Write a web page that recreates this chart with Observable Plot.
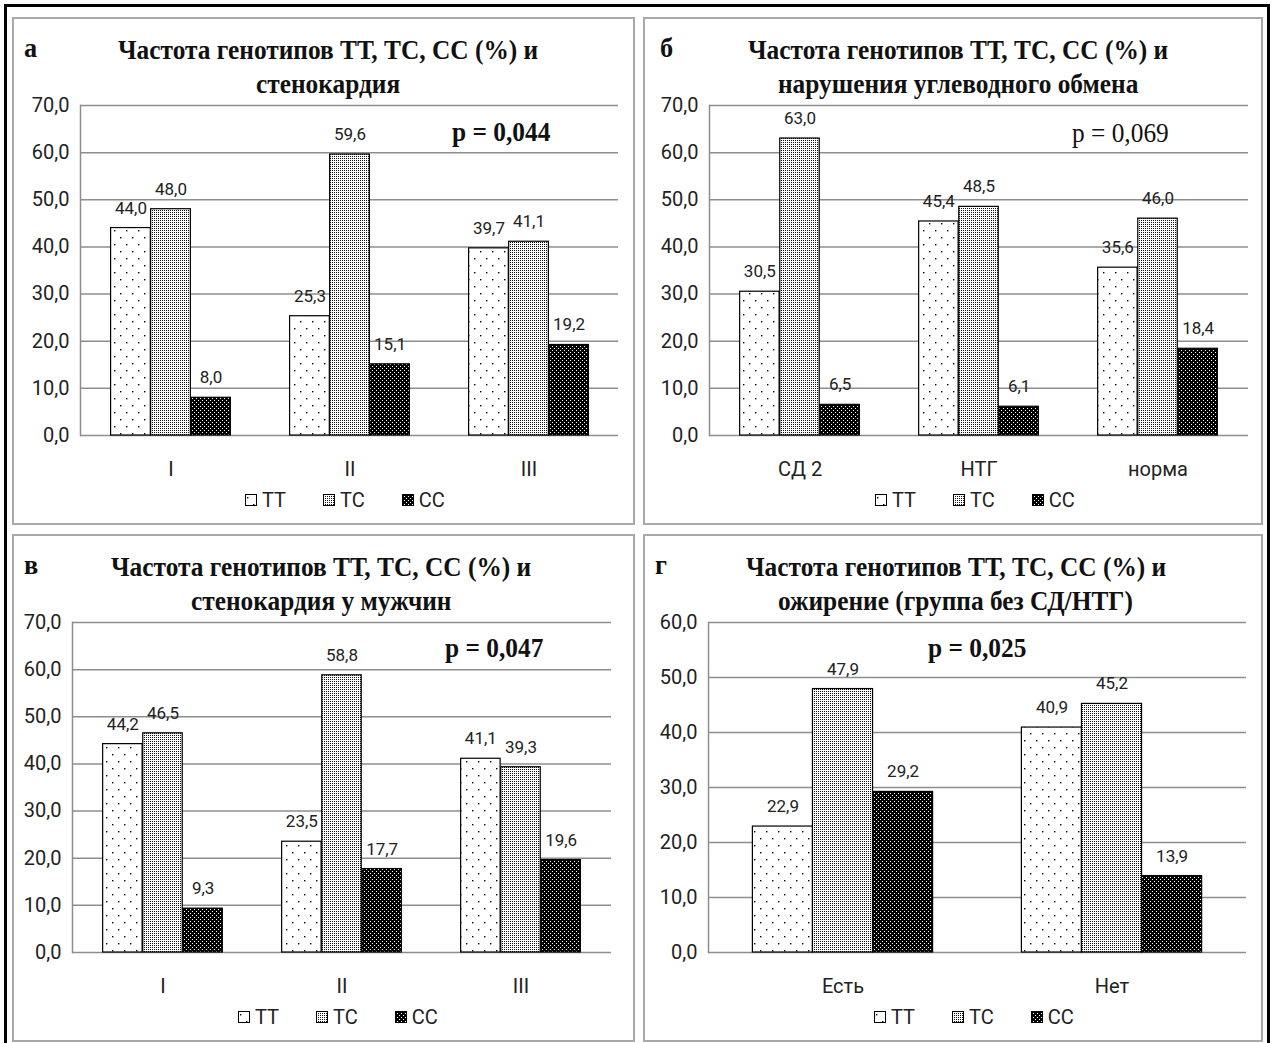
<!DOCTYPE html>
<html>
<head>
<meta charset="utf-8">
<script src="https://cdn.jsdelivr.net/npm/d3@7"></script>
<script src="https://cdn.jsdelivr.net/npm/@observablehq/plot@0.6"></script>
<style>
  html, body { margin: 0; padding: 0; background: #fff; }
  #page { position: relative; width: 1273px; height: 1043px; overflow: hidden; background: #fff; font-family: Roboto, sans-serif; }
  .outer { position: absolute; left: 4px; top: 4px; width: 1266px; height: 1100px; border: 3px solid #000; box-sizing: border-box; }
  .panel { position: absolute; border: 2px solid #a9a9a9; box-sizing: border-box; }
  .txt { position: absolute; white-space: nowrap; transform-origin: left center; color: #111; }
  .plot { position: absolute; }
  .legend { position: absolute; display: flex; gap: 37px; align-items: center; font-size: 20px; line-height: 20px; color: #222; }
  .legend .item { display: flex; align-items: center; gap: 5px; }
  .legend svg { display: block; }
</style>
</head>
<body>
<svg width="0" height="0" style="position:absolute">
  <defs>
    <pattern id="pTT" patternUnits="userSpaceOnUse" width="12" height="14">
      <rect width="12" height="14" fill="#fff"/>
      <rect x="2" y="3" width="1.4" height="1.4" fill="#000"/>
      <rect x="8" y="10" width="1.4" height="1.4" fill="#000"/>
    </pattern>
    <pattern id="pTC" patternUnits="userSpaceOnUse" width="2" height="2">
      <rect width="2" height="2" fill="#fff"/>
      <rect x="0" y="0" width="1" height="1" fill="#111"/>
    </pattern>
    <pattern id="pCC" patternUnits="userSpaceOnUse" width="4" height="4">
      <rect width="4" height="4" fill="#000"/>
      <rect x="0" y="0" width="1" height="1" fill="#fff"/>
      <rect x="2" y="2" width="1" height="1" fill="#fff"/>
    </pattern>
  </defs>
</svg>
<div id="page"><div class="outer"></div></div>
<script>
// ---------- data ----------
const genotypes = ["TT", "TC", "CC"];

const catsA = ["I", "II", "III"];
const ttA = [44.0, 25.3, 39.7];
const tcA = [48.0, 59.6, 41.1];
const ccA = [8.0, 15.1, 19.2];

const catsB = ["СД 2", "НТГ", "норма"];
const ttB = [30.5, 45.4, 35.6];
const tcB = [63.0, 48.5, 46.0];
const ccB = [6.5, 6.1, 18.4];

const catsV = ["I", "II", "III"];
const ttV = [44.2, 23.5, 41.1];
const tcV = [46.5, 58.8, 39.3];
const ccV = [9.3, 17.7, 19.6];

const catsG = ["Есть", "Нет"];
const ttG = [22.9, 40.9];
const tcG = [47.9, 45.2];
const ccG = [29.2, 13.9];

const titleLine1 = "Частота генотипов ТТ, ТС, СС (%) и";
const titlesLine2 = ["стенокардия", "нарушения углеводного обмена", "стенокардия у мужчин", "ожирение (группа без СД/НТГ)"];
const letters = ["а", "б", "в", "г"];
const pValues = ["p = 0,044", "p = 0,069", "p = 0,047", "p = 0,025"];
const yMaxes = [70, 70, 70, 60];

// ---------- layout ----------
const panelBoxes = [
  {x: 12, y: 17, w: 623, h: 508},
  {x: 643, y: 17, w: 620, h: 508},
  {x: 12, y: 534, w: 623, h: 508},
  {x: 643, y: 534, w: 620, h: 508}
];
const plotBoxes = [
  {left: 80, right: 618, top: 105, bottom: 435},
  {left: 709, right: 1248, top: 105, bottom: 435},
  {left: 72, right: 611, top: 622, bottom: 952},
  {left: 708, right: 1246, top: 622, bottom: 952}
];
const titlePos = [
  {letterX: 24, cx: 328, cy1: 50, cy2: 84},
  {letterX: 660, cx: 958, cy1: 50, cy2: 84},
  {letterX: 24, cx: 321, cy1: 567, cy2: 601},
  {letterX: 655, cx: 956, cy1: 567, cy2: 601}
];
const pPos = [
  {x: 452, cy: 132, bold: true},
  {x: 1072, cy: 133, bold: false},
  {x: 445, cy: 648, bold: true},
  {x: 928, cy: 648, bold: true}
];
const legendPos = [
  {x: 245, cy: 500}, {x: 875, cy: 500}, {x: 238, cy: 1017}, {x: 874, cy: 1017}
];

const page = document.getElementById("page");
const fmt = v => v.toFixed(1).replace(".", ",");
const pats = ["url(#pTT)", "url(#pTC)", "url(#pCC)"];

// panels
panelBoxes.forEach(b => {
  const d = document.createElement("div");
  d.className = "panel";
  Object.assign(d.style, {left: b.x + "px", top: b.y + "px", width: b.w + "px", height: b.h + "px"});
  page.appendChild(d);
});

// text helper
const serif = '"Liberation Serif", "Times New Roman", serif';
function makeText(text, size, weight) {
  const d = document.createElement("div");
  d.className = "txt";
  d.textContent = text;
  Object.assign(d.style, {fontFamily: serif, fontSize: size + "px", fontWeight: weight, lineHeight: size + "px"});
  page.appendChild(d);
  return d;
}
const TS = 27;
const probe = makeText(titleLine1, TS, "bold");
const sx = 420 / probe.offsetWidth;
probe.remove();
function place(text, size, weight, {x, cx, cy}) {
  const d = makeText(text, size, weight);
  const w = d.offsetWidth * sx;
  const left = cx != null ? cx - w / 2 : x;
  d.style.left = left + "px";
  d.style.top = (cy - size / 2) + "px";
  d.style.transform = `scaleX(${sx})`;
}

titlePos.forEach((t, i) => {
  place(letters[i], TS + 1, "bold", {x: t.letterX, cy: t.cy1 - 2});
  place(titleLine1, TS, "bold", {cx: t.cx, cy: t.cy1});
  place(titlesLine2[i], TS, "bold", {cx: t.cx, cy: t.cy2});
  place(pValues[i], TS, pPos[i].bold ? "bold" : "normal", {x: pPos[i].x, cy: pPos[i].cy});
});

// charts
const datasets = [
  [catsA, ttA, tcA, ccA],
  [catsB, ttB, tcB, ccB],
  [catsV, ttV, tcV, ccV],
  [catsG, ttG, tcG, ccG]
];

datasets.forEach(([cats, tt, tc, cc], i) => {
  const L = plotBoxes[i];
  const ymax = yMaxes[i];
  const series = [tt, tc, cc];
  const rows = [];
  genotypes.forEach((g, k) => cats.forEach((c, j) => rows.push({cat: c, g, k, value: series[k][j]})));
  const mL = 70, mR = 12, mT = 25, mB = 50;
  const W = L.right - L.left, H = L.bottom - L.top;
  const bw = W / cats.length, w = bw * 0.67 / 3, side = (bw - 3 * w) / 2;
  const ticks = d3.range(0, ymax + 1, 10);
  const marks = [
    Plot.gridY({ticks, stroke: "#8e8e8e", strokeOpacity: 1, strokeWidth: 1.5}),
    Plot.frame({anchor: "left", stroke: "#8e8e8e", strokeWidth: 1.5})
  ];
  genotypes.forEach((g, k) => {
    const sub = rows.filter(r => r.k === k);
    marks.push(Plot.barY(sub, {
      x: "cat", y: "value", fill: pats[k], stroke: "#000", strokeWidth: 1.2,
      insetLeft: side + k * w, insetRight: bw - side - (k + 1) * w
    }));
    marks.push(Plot.text(sub, {
      x: "cat", y: "value", text: d => fmt(d.value), dx: (k - 1) * w, dy: -20,
      fontSize: 17, fill: "#222"
    }));
  });
  marks.push(Plot.axisY({ticks, tickFormat: fmt, tickSize: 0, tickPadding: 11, label: null, fontSize: 20, fill: "#222"}));
  marks.push(Plot.axisX({tickSize: 0, tickPadding: 26, label: null, fontSize: 20, fill: "#222"}));
  const svg = Plot.plot({
    width: W + mL + mR, height: H + mT + mB,
    marginLeft: mL, marginRight: mR, marginTop: mT, marginBottom: mB,
    x: {domain: cats, padding: 0},
    y: {domain: [0, ymax]},
    style: {fontFamily: "Roboto, sans-serif", background: "transparent", overflow: "visible", color: "#222"},
    marks
  });
  svg.classList.add("plot");
  svg.style.left = (L.left - mL) + "px";
  svg.style.top = (L.top - mT) + "px";
  page.appendChild(svg);

  // legend
  const lg = document.createElement("div");
  lg.className = "legend";
  lg.style.left = legendPos[i].x + "px";
  lg.style.top = (legendPos[i].cy - 10) + "px";
  genotypes.forEach((g, k) => {
    const it = document.createElement("div");
    it.className = "item";
    it.innerHTML = `<svg width="12" height="12"><rect x="0.5" y="0.5" width="11" height="11" fill="${pats[k]}" stroke="#000"/></svg><span>${g}</span>`;
    lg.appendChild(it);
  });
  page.appendChild(lg);
});
</script>
</body>
</html>
